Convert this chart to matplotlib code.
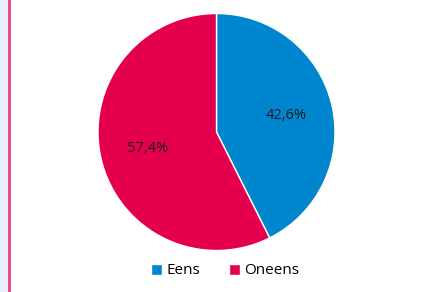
import matplotlib.pyplot as plt
from matplotlib.patches import Rectangle

labels = ["Eens", "Oneens"]
values = [42.6, 57.4]
colors = ["#0085cf", "#e4004f"]

plt.rcParams['font.family'] = ['Open Sans', 'DejaVu Sans']

fig = plt.figure(figsize=(4.32, 2.92), dpi=100)

# strook links
fig.patches.append(Rectangle((0, 0), 8.5 / 432, 1, transform=fig.transFigure,
                             facecolor="#e6eef9", edgecolor="none"))
fig.lines.append(plt.Line2D([9.3 / 432, 9.3 / 432], [0, 1], transform=fig.transFigure,
                            color="#f03c88", lw=2))

ax = fig.add_axes([(216.5 - 118.5) / 432, 1 - (132 + 118.5) / 292, 237 / 432, 237 / 292])
wedges, texts, autotexts = ax.pie(
    values, colors=colors, startangle=90, counterclock=False,
    autopct=lambda p: f"{p:.1f}%".replace(".", ","), pctdistance=0.6,
    wedgeprops=dict(edgecolor="white", linewidth=1),
    textprops=dict(fontsize=10.5, color="#1a1a1a"))
ax.set_xlim(-1, 1)
ax.set_ylim(-1, 1)
ax.set_aspect("equal")

fig.legend(wedges, labels, loc="center", bbox_to_anchor=(225 / 432, 1 - 271 / 292),
           ncol=2, frameon=False, fontsize=11, handlelength=0.75, handleheight=0.75,
           handletextpad=0.25, columnspacing=1.9)

fig.savefig("out.png", dpi=100)
